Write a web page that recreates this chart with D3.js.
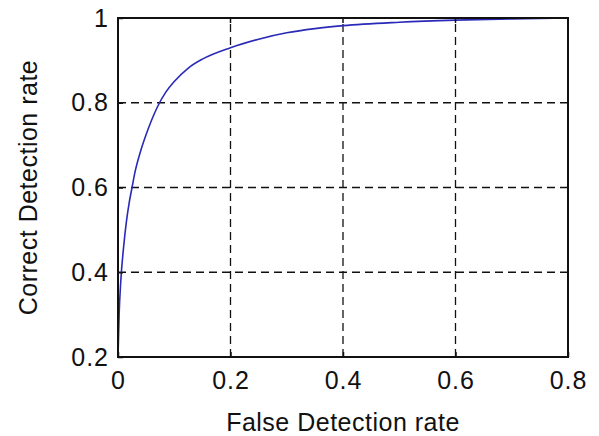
<!DOCTYPE html>
<html>
<head>
<meta charset="utf-8">
<script src="https://cdn.jsdelivr.net/npm/d3@7"></script>
<style>
  body { margin: 0; background: #fff; }
  svg text { font-family: "Liberation Sans", Arial, sans-serif; fill: #111; }
  .grid line { stroke: #111; stroke-width: 1.3; stroke-dasharray: 8,5; }
</style>
</head>
<body>
<svg id="chart" width="599" height="436"></svg>
<script>

// ROC curve
var falseRate = [0, 0.002, 0.005, 0.01, 0.015, 0.02, 0.025, 0.03, 0.04, 0.05, 0.06, 0.07, 0.085, 0.1, 0.125, 0.15, 0.2, 0.25, 0.3, 0.35, 0.4, 0.5, 0.6, 0.7, 0.8];
var correctRate = [0.2, 0.3, 0.38, 0.46, 0.52, 0.565, 0.6, 0.635, 0.685, 0.725, 0.76, 0.79, 0.825, 0.85, 0.882, 0.903, 0.93, 0.95, 0.965, 0.975, 0.982, 0.99, 0.995, 0.998, 1.0];

var xTicks = [0, 0.2, 0.4, 0.6, 0.8];
var yTicks = [0.2, 0.4, 0.6, 0.8, 1];

var svg = d3.select('#chart');

var x0 = 118, x1 = 568, y0 = 357, y1 = 18;

var x = d3.scaleLinear().domain([0, 0.8]).range([x0, x1]);
var y = d3.scaleLinear().domain([0.2, 1]).range([y0, y1]);

// dashed grid
var grid = svg.append('g').attr('class', 'grid');
grid.selectAll('.vg')
    .data(xTicks.slice(1, -1))
    .enter()
    .append('line')
    .attr('x1', function(d) { return x(d); })
    .attr('x2', function(d) { return x(d); })
    .attr('y1', y0)
    .attr('y2', y1);
grid.selectAll('.hg')
    .data(yTicks.slice(1, -1))
    .enter()
    .append('line')
    .attr('y1', function(d) { return y(d); })
    .attr('y2', function(d) { return y(d); })
    .attr('x1', x0)
    .attr('x2', x1);

// curve
var line = d3.line()
    .x(function(d, i) { return x(falseRate[i]); })
    .y(function(d, i) { return y(correctRate[i]); })
    .curve(d3.curveMonotoneX);

svg.append('path')
    .datum(falseRate)
    .attr('d', line)
    .attr('fill', 'none')
    .attr('stroke', '#2a2ab8')
    .attr('stroke-width', 1.6);

// axes, ticks inward like matlab
var xAxis = d3.axisBottom(x).tickValues(xTicks).tickSize(-5).tickPadding(14)
    .tickFormat(function(d) { return d === 0 ? '0' : d3.format('.1f')(d); });
var yAxis = d3.axisLeft(y).tickValues(yTicks).tickSize(-5).tickPadding(9)
    .tickFormat(function(d) { return d === 1 ? '1' : d3.format('.1f')(d); });

var gx = svg.append('g').attr('transform', 'translate(0,' + y0 + ')').call(xAxis);
var gy = svg.append('g').attr('transform', 'translate(' + x0 + ',0)').call(yAxis);

[gx, gy].forEach(function(g) {
    g.select('.domain').remove();
    g.selectAll('.tick line').attr('stroke', '#111').attr('stroke-width', 1.5);
    g.selectAll('.tick text')
        .style('font-size', '25px')
        .style('letter-spacing', '1px')
        .attr('fill', '#111');
});
gx.selectAll('.tick text').attr('dy', '0.71em');

// top/right ticks
svg.append('g').selectAll('line')
    .data(xTicks)
    .enter()
    .append('line')
    .attr('x1', function(d) { return x(d); })
    .attr('x2', function(d) { return x(d); })
    .attr('y1', y1)
    .attr('y2', y1 + 5)
    .attr('stroke', '#111')
    .attr('stroke-width', 1.5);

// frame
svg.append('rect')
    .attr('x', x0)
    .attr('y', y1)
    .attr('width', x1 - x0)
    .attr('height', y0 - y1)
    .attr('fill', 'none')
    .attr('stroke', '#111')
    .attr('stroke-width', 2);

// labels
svg.append('text')
    .attr('x', (x0 + x1) / 2)
    .attr('y', 431)
    .attr('text-anchor', 'middle')
    .style('font-size', '25px')
    .style('letter-spacing', '0.5px')
    .text('False Detection rate');

svg.append('text')
    .attr('transform', 'translate(37,' + ((y0 + y1) / 2) + ') rotate(-90)')
    .attr('text-anchor', 'middle')
    .style('font-size', '25px')
    .style('letter-spacing', '0.5px')
    .text('Correct Detection rate');

</script>
</body>
</html>
